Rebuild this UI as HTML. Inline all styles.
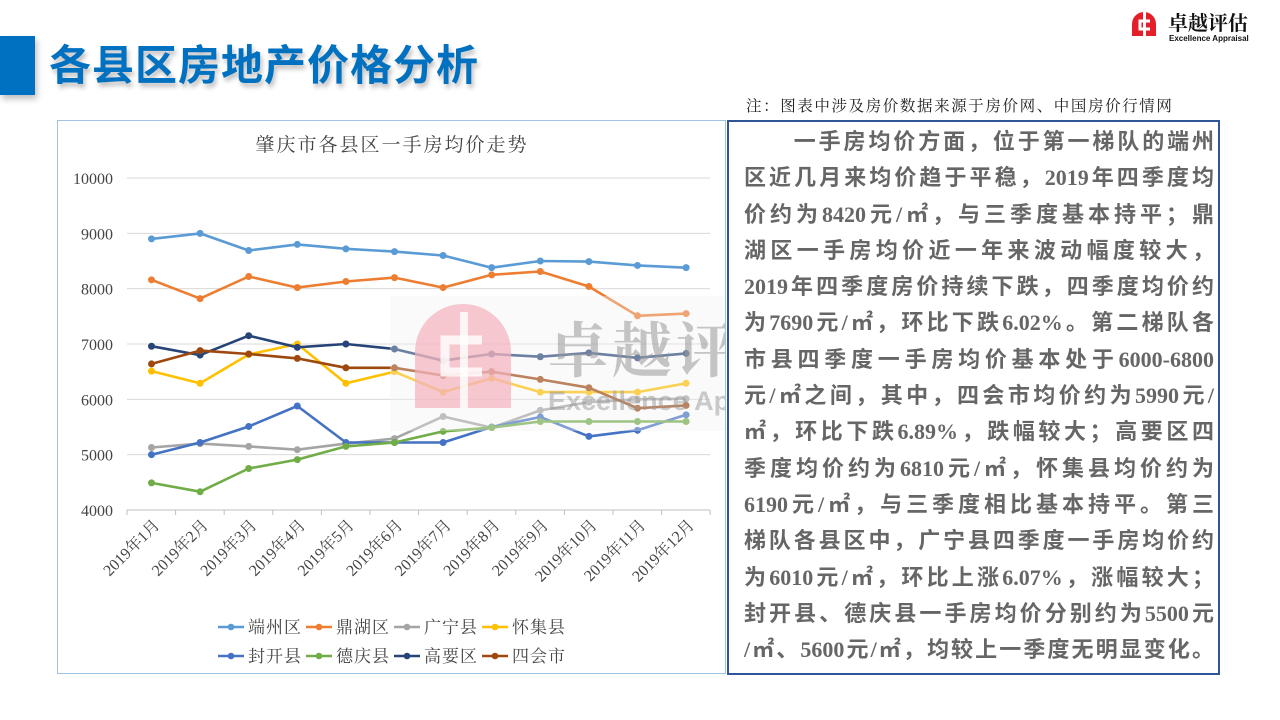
<!DOCTYPE html>
<html><head><meta charset="utf-8">
<style>
body{margin:0;width:1280px;height:720px;background:#fff;position:relative;overflow:hidden;font-family:"Liberation Sans","Noto Sans CJK SC",sans-serif}
.bar{position:absolute;left:0;top:36px;width:35px;height:59px;background:#0070C0;box-shadow:2px 4px 6px rgba(0,0,0,.25)}
.title{position:absolute;left:49px;top:38px;font-size:42px;font-weight:bold;color:#0070C0;letter-spacing:1px;text-shadow:2px 4px 5px rgba(0,0,0,.25);white-space:nowrap;line-height:56px}
.note{position:absolute;left:746px;top:94px;font-size:15.5px;color:#222;font-family:"Liberation Serif","Noto Serif CJK SC",serif;letter-spacing:1.6px;white-space:nowrap}
.chartbox{position:absolute;left:57px;top:120px;width:669px;height:554px;border:1px solid #9DC3E6;box-sizing:border-box}
.textbox{position:absolute;left:727px;top:120px;width:493px;height:555px;border:2px solid #2F5597;box-sizing:border-box}
.txt{position:absolute;left:744px;top:124px;width:470px;font-family:"Liberation Serif","Noto Sans CJK SC",sans-serif;font-weight:bold;font-size:22px;color:#666;line-height:36.3px}
.txt div{text-align:justify;text-align-last:justify;white-space:nowrap}
.logo{position:absolute;left:1128px;top:8px}
</style></head><body>
<div class="bar"></div>
<div class="title">各县区房地产价格分析</div>
<div class="logo"><svg width="150" height="36">
<path d="M4 28 V16 A12 12 0 0 1 28 16 V28 Z" fill="#E3202A"/>
<rect x="15" y="4" width="3" height="25" fill="#fff"/>
<path d="M22 13 H12 V21 H22" fill="none" stroke="#fff" stroke-width="3"/>
<text x="40" y="22" font-size="20" font-weight="bold" fill="#111" font-family="Noto Serif CJK SC,serif">卓越评估</text>
<text x="41" y="33" font-size="8" font-weight="bold" fill="#111" font-family="Liberation Sans,sans-serif">Excellence Appraisal</text>
</svg></div>
<div class="note">注：图表中涉及房价数据来源于房价网、中国房价行情网</div>
<div class="chartbox"></div>
<svg id="ch" style="position:absolute;left:0;top:0" width="1280" height="720"></svg>
<div class="textbox"></div>
<div class="txt">
<div>　　一手房均价方面，位于第一梯队的端州</div>
<div>区近几月来均价趋于平稳，2019年四季度均</div>
<div>价约为8420元/㎡，与三季度基本持平；鼎</div>
<div>湖区一手房均价近一年来波动幅度较大，</div>
<div>2019年四季度房价持续下跌，四季度均价约</div>
<div>为7690元/㎡，环比下跌6.02%。第二梯队各</div>
<div>市县四季度一手房均价基本处于6000-6800</div>
<div>元/㎡之间，其中，四会市均价约为5990元/</div>
<div>㎡，环比下跌6.89%，跌幅较大；高要区四</div>
<div>季度均价约为6810元/㎡，怀集县均价约为</div>
<div>6190元/㎡，与三季度相比基本持平。第三</div>
<div>梯队各县区中，广宁县四季度一手房均价约</div>
<div>为6010元/㎡，环比上涨6.07%，涨幅较大；</div>
<div>封开县、德庆县一手房均价分别约为5500元</div>
<div style="width:470px">/㎡、5600元/㎡，均较上一季度无明显变化。</div>
</div>
<script>
var s='';
var F='font-family="Liberation Serif,Noto Serif CJK SC,serif"';
s+='<defs><clipPath id="cp"><rect x="58" y="121" width="667" height="552"/></clipPath></defs>';
s+='<text x="392" y="151" text-anchor="middle" font-size="19" fill="#444" letter-spacing="2" '+F+'>肇庆市各县区一手房均价走势</text>';
function Y(v){return 510-(v-4000)*0.05533;}
function X(i){return 151.5+i*48.6;}
var L=127,R=710;
for(var v=4000;v<=10000;v+=1000){var y=Y(v);
 if(v>4000)s+='<line x1="'+L+'" x2="'+R+'" y1="'+y+'" y2="'+y+'" stroke="#d9d9d9"/>';
 s+='<text x="113" y="'+(y+6)+'" text-anchor="end" font-size="16" fill="#444" '+F+'>'+v+'</text>';}
s+='<line x1="'+L+'" x2="'+R+'" y1="510" y2="510" stroke="#bfbfbf"/>';
for(var i=0;i<=12;i++){var x=L+i*48.6;s+='<line x1="'+x+'" x2="'+x+'" y1="510" y2="515" stroke="#bfbfbf"/>';}
for(var i=0;i<12;i++){var x=X(i)+9;s+='<text transform="translate('+x+',526) rotate(-45)" text-anchor="end" font-size="16" fill="#444" '+F+'>2019年'+(i+1)+'月</text>';}
var D=[
['端州区','#5B9BD5',[8900,9000,8690,8800,8720,8670,8600,8380,8500,8490,8420,8380]],
['鼎湖区','#ED7D31',[8160,7820,8220,8020,8130,8200,8020,8250,8310,8040,7510,7550]],
['广宁县','#A5A5A5',[5130,5200,5150,5090,5200,5290,5690,5490,5800,5950,6000,6010]],
['怀集县','#FFC000',[6510,6290,6810,7000,6290,6500,6130,6380,6130,6130,6130,6290]],
['封开县','#4472C4',[5000,5220,5510,5880,5220,5220,5220,5500,5680,5330,5440,5720]],
['德庆县','#70AD47',[4490,4330,4750,4910,5150,5220,5420,5490,5600,5600,5600,5600]],
['高要区','#264478',[6960,6800,7150,6940,7000,6910,6700,6820,6770,6840,6750,6830]],
['四会市','#9E480E',[6640,6880,6820,6740,6570,6570,6430,6500,6360,6210,5840,5890]]];
D.forEach(function(d,k){var p=d[2].map(function(v,i){return X(i).toFixed(1)+','+Y(v).toFixed(1)}).join(' ');
 s+='<polyline points="'+p+'" fill="none" stroke="'+d[1]+'" stroke-width="2.6" stroke-linejoin="round"/>';
 d[2].forEach(function(v,i){s+='<circle cx="'+X(i)+'" cy="'+Y(v)+'" r="3.5" fill="'+d[1]+'"/>';});
 var lx=[218,306,394,482][k%4], ly=k<4?627:656;
 s+='<line x1="'+lx+'" x2="'+(lx+26)+'" y1="'+ly+'" y2="'+ly+'" stroke="'+d[1]+'" stroke-width="2.6"/><circle cx="'+(lx+13)+'" cy="'+ly+'" r="3.3" fill="'+d[1]+'"/>';
 s+='<text x="'+(lx+30)+'" y="'+(ly+6)+'" font-size="17" fill="#444" letter-spacing="1" '+F+'>'+d[0]+'</text>';
});
// watermark
s+='<g clip-path="url(#cp)">';
s+='<rect x="390" y="296" width="340" height="135" fill="#f2f2f2" opacity="0.35"/>';
s+='<path d="M415 408 V352 A48 48 0 0 1 511 352 V408 Z" fill="#f4b0bb" opacity="0.7"/>';
s+='<rect x="460" y="312" width="8" height="97" fill="#fff" opacity="0.8"/>';
s+='<path d="M482 340 H445 V372 H482" fill="none" stroke="#fff" stroke-width="9" opacity="0.8"/>';
s+='<text x="548" y="372" font-size="60" font-weight="bold" fill="#999" opacity="0.55" letter-spacing="4" font-family="Noto Serif CJK SC,serif">卓越评估</text>';
s+='<text x="548" y="410" font-size="27" font-weight="bold" fill="#999" opacity="0.5" font-family="Liberation Sans,sans-serif">Excellence Appraisal</text>';
s+='</g>';
document.getElementById('ch').innerHTML=s;
</script>
</body></html>
